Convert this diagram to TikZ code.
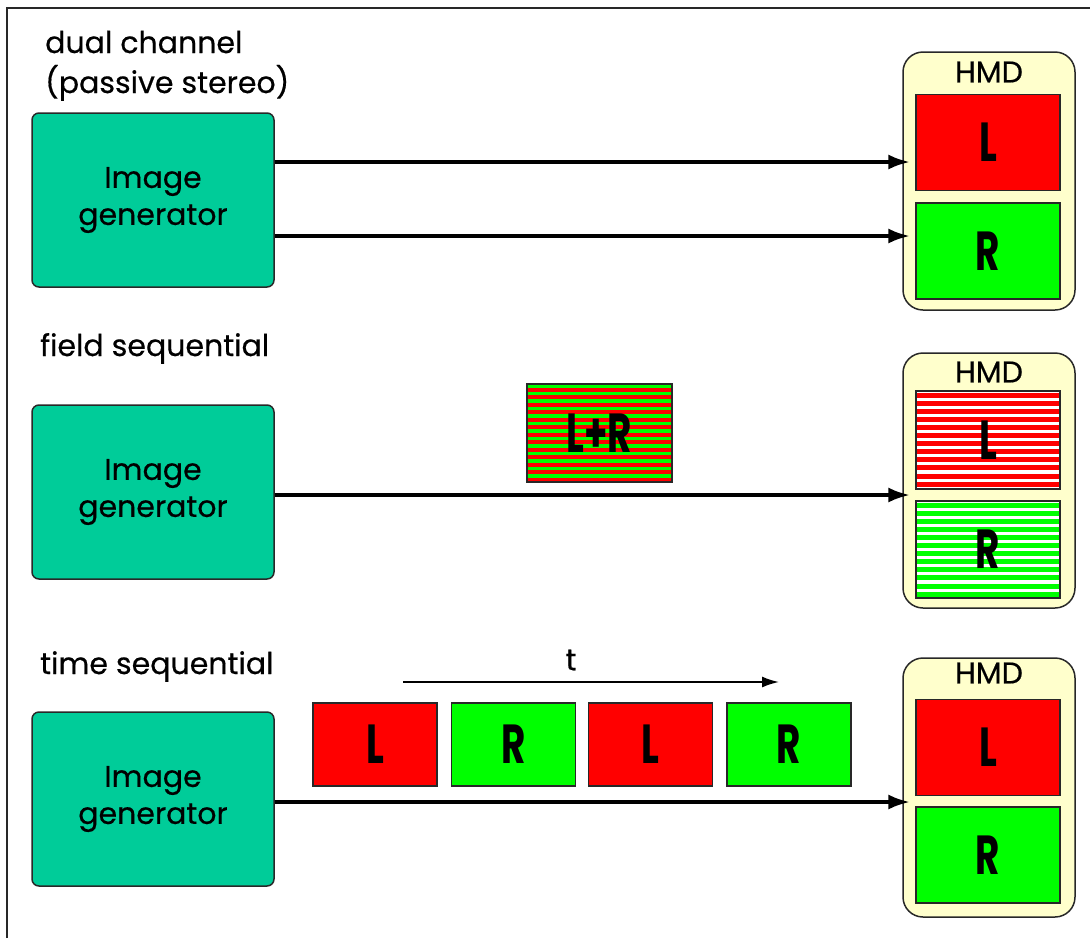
\documentclass[tikz,border=0pt]{standalone}
\usepackage{fontspec}
\setmainfont{Poppins}[UprightFeatures={FakeBold=0.5}]
\usepackage{graphicx}
\usetikzlibrary{arrows.meta,calc}
\definecolor{genteal}{RGB}{0,204,153}
\definecolor{cream}{RGB}{255,255,204}
\definecolor{scrred}{RGB}{255,0,0}
\definecolor{scrgreen}{RGB}{0,255,0}
\definecolor{edge}{RGB}{40,40,40}
\newcommand\bigLR[1]{\scalebox{0.68}[1]{#1}}
\tikzset{
  txt/.style={inner sep=0pt, font=\fontsize{30}{40}\selectfont},
  gen/.style={draw=edge, line width=1.5pt, fill=genteal, rounded corners=7pt,
    minimum width=242pt, minimum height=174pt, align=center, inner sep=0pt,
    font=\fontsize{30}{37}\selectfont},
  hmd/.style={draw=edge, line width=1.5pt, fill=cream, rounded corners=20pt,
    minimum width=172pt, inner sep=0pt},
  scr/.style={draw=edge, line width=1.2pt, minimum width=144pt, minimum height=96pt,
    inner sep=0pt, font=\fontsize{55}{55}\selectfont\bfseries},
  frame/.style={draw=edge, line width=1.2pt, minimum width=124pt, minimum height=83pt,
    inner sep=0pt, font=\fontsize{55}{55}\selectfont\bfseries},
  arr/.style={line width=4pt, -{Latex[length=22pt,width=15pt]}, shorten >=5pt},
  tarr/.style={line width=1.8pt, -{Latex[length=17pt,width=11pt]}},
  stripesRG/.style={fill=scrgreen, path picture={
    \foreach \k in {0,...,14}{
      \fill[scrred] ([yshift=-\k*7.5pt-3.75pt]path picture bounding box.north west)
        rectangle ([yshift=-\k*7.5pt-7.5pt]path picture bounding box.north east);}}},
  stripesW/.style={fill=white, path picture={
    \foreach \k in {0,...,13}{
      \fill[#1] ([yshift=-\k*8.1pt-1.5pt]path picture bounding box.north west)
        rectangle ([yshift=-\k*8.1pt-6.5pt]path picture bounding box.north east);}}},
}
\begin{document}
\begin{tikzpicture}[x=1pt,y=-1pt]
\useasboundingbox (0,0) rectangle (1090,938);
\fill[white] (0,0) rectangle (1090,938);
\draw[line width=2pt, edge] (7,938) -- (7,8) -- (1090,8);

% ---------- panel 1 : dual channel ----------
\node[txt, anchor=base west] (lab1a) at (45,53) {dual channel};
\node[txt, anchor=base west] (lab1b) at (45,93) {(passive stereo)};
\node[gen] (g1) at (153,200) {Image\\generator};
\node[hmd, minimum height=258pt] (h1) at (989,181) {};
\node[txt] (hl1) at (989,72) {HMD};
\node[scr, fill=scrred] (l1) at (988,142.5) {\bigLR{L}};
\node[scr, fill=scrgreen] (r1) at (988,251) {\bigLR{R}};
\coordinate (a1) at ($(g1.east)+(0,-38)$);
\coordinate (a2) at ($(g1.east)+(0,36)$);
\draw[arr] (a1) -- (l1.west |- a1);
\draw[arr] (a2) -- (r1.west |- a2);

% ---------- panel 2 : field sequential ----------
\node[txt, anchor=base west] (lab2) at (40,356) {field sequential};
\node[gen] (g2) at (153,492) {Image\\generator};
\node[hmd, minimum height=255pt] (h2) at (989,480.5) {};
\node[txt] (hl2) at (989,372) {HMD};
\node[scr, stripesW=scrred, minimum height=98pt] (l2) at (988,440) {\bigLR{L}};
\node[scr, stripesW=scrgreen, minimum height=97pt] (r2) at (988,549.5) {\bigLR{R}};
\node[scr, stripesRG, minimum width=145pt, minimum height=98pt] (lr) at (599.5,433) {\bigLR{L+R}};
\coordinate (b1) at ($(g2.east)+(0,3)$);
\draw[arr] (b1) -- (l2.west |- b1);

% ---------- panel 3 : time sequential ----------
\node[txt, anchor=base west] (lab3) at (40,674) {time sequential};
\node[gen] (g3) at (153,799) {Image\\generator};
\node[hmd, minimum height=259pt] (h3) at (989,787.5) {};
\node[txt] (hl3) at (989,673) {HMD};
\node[scr, fill=scrred] (l3) at (988,747.5) {\bigLR{L}};
\node[scr, fill=scrgreen] (r3) at (988,855) {\bigLR{R}};
\node[frame, fill=scrred] (f1) at (375,744.5) {\bigLR{L}};
\node[frame, fill=scrgreen] (f2) at (513.5,744.5) {\bigLR{R}};
\node[frame, fill=scrred] (f3) at (650.5,744.5) {\bigLR{L}};
\node[frame, fill=scrgreen] (f4) at (789,744.5) {\bigLR{R}};
\coordinate (c1) at ($(g3.east)+(0,3)$);
\draw[arr] (c1) -- (l3.west |- c1);
\coordinate (t0) at (403,682);
\coordinate (t1) at (779,682);
\draw[tarr] (t0) -- (t1);
\node[txt] (tl) at (571,660) {t};
\end{tikzpicture}
\end{document}
